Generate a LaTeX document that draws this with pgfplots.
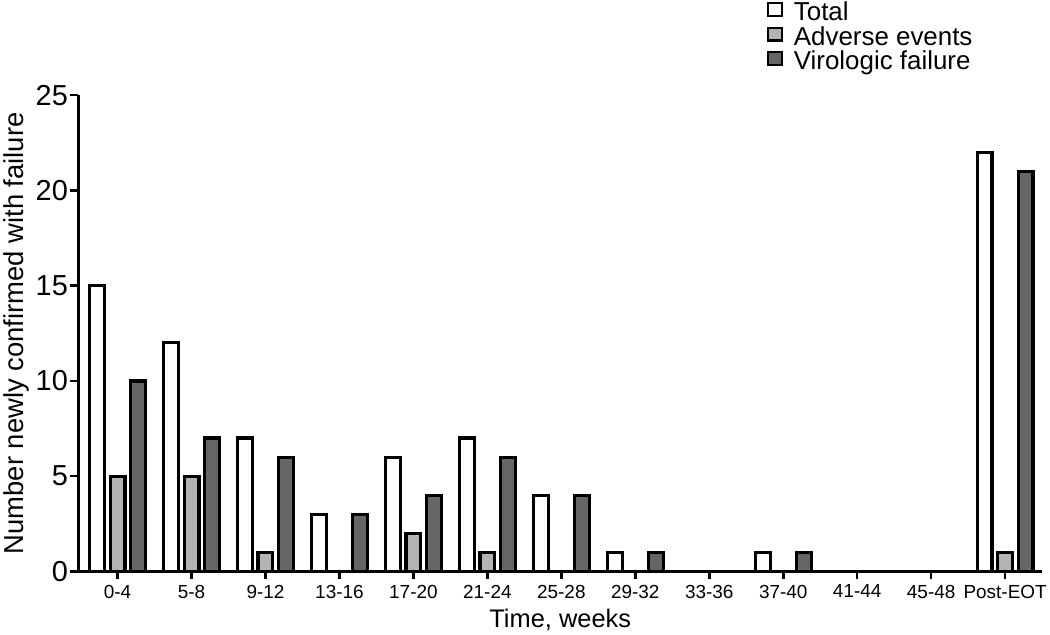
\documentclass[border=0pt]{standalone}
\usepackage{fontspec}
\setmainfont{Liberation Sans}
\usepackage{pgfplots}
\pgfplotsset{compat=1.18}
\definecolor{aegray}{RGB}{180,180,180}
\definecolor{vfgray}{RGB}{102,102,102}

\begin{document}
\begin{tikzpicture}
\begin{axis}[
    scale only axis,
    width=967pt, height=478pt,
    ybar, bar width=0.2,
    xmin=-0.53, xmax=12.5,
    ymin=0, ymax=25,
    axis lines=left,
    axis line style={line width=2.8pt, -},
    every tick/.style={line width=2.6pt, black},
    tick align=outside,
    major tick length=8pt,
    xtick={0,...,12},
    xticklabels={0-4,5-8,9-12,13-16,17-20,21-24,25-28,29-32,33-36,37-40,41-44,45-48,Post-EOT},
    ytick={0,5,...,25},
    /pgf/number format/assume math mode=true,
    x tick label style={font=\fontsize{19}{22}\selectfont, yshift=-2pt},
    y tick label style={font=\fontsize{29}{32}\selectfont, xshift=1pt},
    xlabel={Time, weeks},
    ylabel={Number newly confirmed with failure},
    xlabel style={font=\fontsize{25.5}{30}\selectfont, yshift=-4pt},
    ylabel style={font=\fontsize{27.5}{32}\selectfont, yshift=0pt},
    every axis plot/.append style={draw=black, line width=3.2pt},
    legend style={draw=none, fill=none, at={(0.711,1.2)}, anchor=north west,
        font=\fontsize{26}{26}\selectfont, row sep=0pt, column sep=11pt,
        nodes={inner sep=0pt, text height=17pt, text depth=6pt}},
    legend cell align=left,
    legend image code/.code={\draw[#1, line width=2.2pt] (0pt,-1pt) rectangle (14pt,12pt);},
]
\addplot[fill=white, bar shift=-0.277] coordinates {
(0,15) (1,12) (2,7) (3,3) (4,6) (5,7) (6,4) (7,1) (9,1) (12,22)};
\addplot[fill=aegray, bar shift=0] coordinates {
(0,5) (1,5) (2,1) (4,2) (5,1) (12,1)};
\addplot[fill=vfgray, bar shift=0.277] coordinates {
(0,10) (1,7) (2,6) (3,3) (4,4) (5,6) (6,4) (7,1) (9,1) (12,21)};
\legend{Total, Adverse events, Virologic failure}
\end{axis}
\end{tikzpicture}
\end{document}
